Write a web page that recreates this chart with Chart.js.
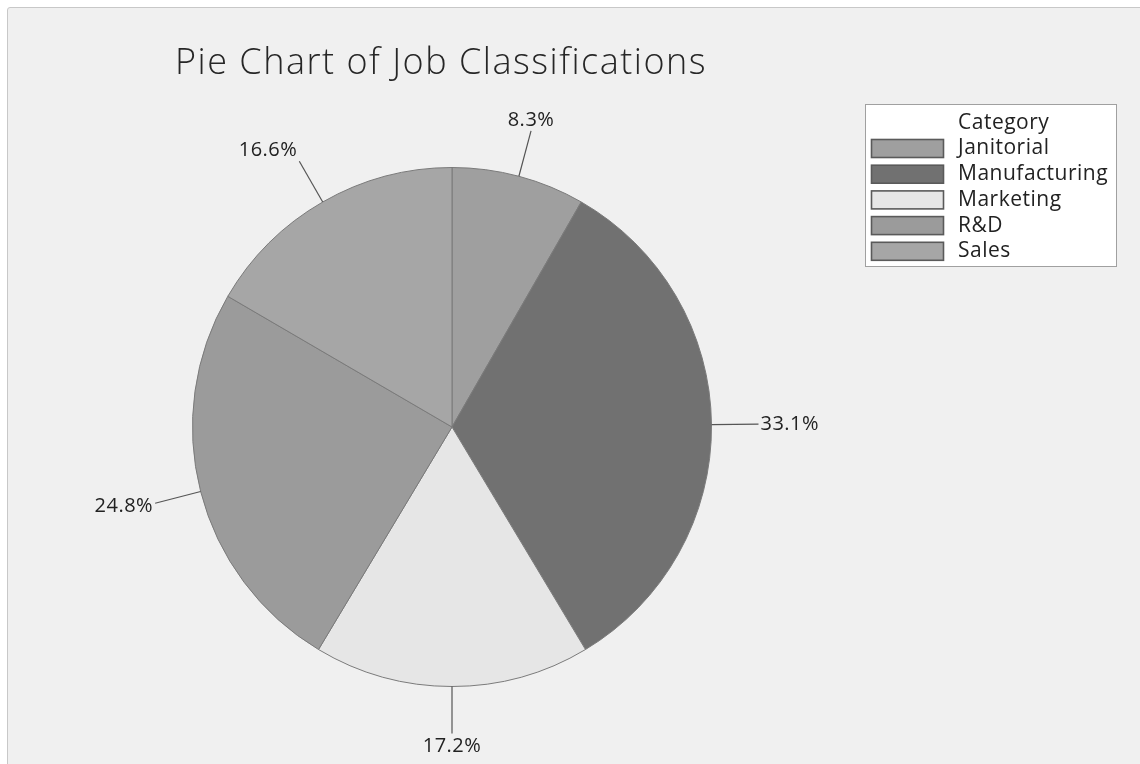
<!DOCTYPE html>
<html>
<head>
<meta charset="utf-8">
<script src="https://cdn.jsdelivr.net/npm/chart.js@4.4.1/dist/chart.umd.min.js"></script>
<style>
    html, body { margin: 0; padding: 0; background: #ffffff; }
    #panel {
        position: absolute; left: 7px; top: 7px; width: 1140px; height: 764px;
        background: #f0f0f0; border: 1px solid #c8c8c8; border-radius: 3px;
    }
    #wrap { position: absolute; left: 0; top: 0; width: 1140px; height: 764px; }
</style>
</head>
<body>
<div id="panel"></div>
<div id="wrap"><canvas id="pieChart" width="1140" height="764"></canvas></div>
<script>
Chart.defaults.font.family = 'Open Sans';

const chartTitle = 'Pie Chart of Job Classifications';
const legendTitle = 'Category';
const categories = ['Janitorial', 'Manufacturing', 'Marketing', 'R&D', 'Sales'];
const percentages = [8.3, 33.1, 17.2, 24.8, 16.6];
const sliceColors = ['#9f9f9f', '#717171', '#e6e6e6', '#9b9b9b', '#a6a6a6'];

// leader lines and percent labels outside the pie
const sliceLabels = {
    id: 'sliceLabels',
    afterDatasetsDraw(chart) {
        const ctx = chart.ctx;
        const meta = chart.getDatasetMeta(0);
        ctx.save();
        ctx.font = '20px "Open Sans"';
        ctx.letterSpacing = '0.5px';
        ctx.fillStyle = '#222';
        ctx.strokeStyle = '#555';
        ctx.lineWidth = 1.2;
        meta.data.forEach((arc, i) => {
            const mid = (arc.startAngle + arc.endAngle) / 2;
            const dx = Math.cos(mid), dy = Math.sin(mid);
            const r = arc.outerRadius;
            const x0 = arc.x + dx * r, y0 = arc.y + dy * r;
            const x1 = arc.x + dx * (r + 47), y1 = arc.y + dy * (r + 47);
            ctx.beginPath();
            ctx.moveTo(x0, y0);
            ctx.lineTo(x1, y1);
            ctx.stroke();

            let tx = x1, ty = y1;
            if (dx > 0.3) { ctx.textAlign = 'left'; tx += 2; }
            else if (dx < -0.3) { ctx.textAlign = 'right'; tx -= 2; }
            else ctx.textAlign = 'center';
            if (dy < -0.6) { ctx.textBaseline = 'bottom'; ty -= 1; }
            else if (dy > 0.6) { ctx.textBaseline = 'top'; ty += 3; }
            else { ctx.textBaseline = 'middle'; ty += dy * 12; }
            ctx.fillText(percentages[i].toFixed(1) + '%', tx, ty);
        });
        ctx.restore();
    }
};

// title and boxed category legend
const chartDecor = {
    id: 'chartDecor',
    afterDraw(chart) {
        const ctx = chart.ctx;
        ctx.save();
        ctx.fillStyle = '#262626';
        ctx.font = '300 36px "Open Sans"';
        ctx.letterSpacing = '1.5px';
        ctx.textAlign = 'left';
        ctx.textBaseline = 'alphabetic';
        ctx.fillText(chartTitle, 175, 74);

        const bx = 865.5, by = 104.5, bw = 251, bh = 162;
        ctx.fillStyle = '#ffffff';
        ctx.fillRect(bx, by, bw, bh);
        ctx.strokeStyle = '#a0a0a0';
        ctx.lineWidth = 1;
        ctx.strokeRect(bx, by, bw, bh);

        ctx.font = '21px "Open Sans"';
        ctx.letterSpacing = '0.5px';
        ctx.textBaseline = 'middle';
        ctx.fillStyle = '#222';
        ctx.fillText(legendTitle, 958, 123);
        const ds = chart.data.datasets[0];
        chart.data.labels.forEach((label, i) => {
            const y = 139 + i * 25.7;
            ctx.fillStyle = ds.backgroundColor[i];
            ctx.fillRect(871.5, y + 0.5, 72, 18);
            ctx.strokeStyle = '#5a5a5a';
            ctx.lineWidth = 1.6;
            ctx.strokeRect(871.5, y + 0.5, 72, 18);
            ctx.fillStyle = '#222';
            ctx.fillText(label, 958, y + 9.5);
        });
        ctx.restore();
    }
};

new Chart(
    document.getElementById('pieChart'),
    {
        type: 'pie',
        data: {
            labels: categories,
            datasets: [
                {
                    data: percentages,
                    backgroundColor: sliceColors,
                    borderColor: '#7a7a7a',
                    borderWidth: 1
                }
            ]
        },
        options: {
            responsive: false,
            animation: false,
            layout: {
                padding: { left: 192, top: 167, right: 428, bottom: 77 }
            },
            plugins: {
                legend: { display: false },
                title: { display: false },
                tooltip: { enabled: false }
            }
        },
        plugins: [sliceLabels, chartDecor]
    }
);
</script>
</body>
</html>
